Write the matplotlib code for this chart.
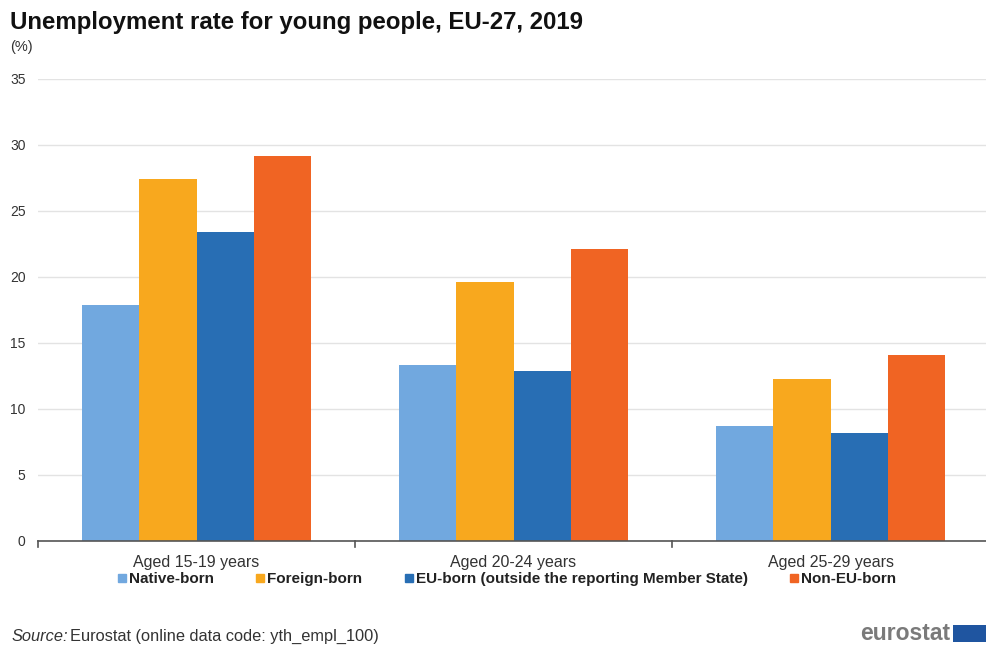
import matplotlib
matplotlib.use("Agg")
import matplotlib.pyplot as plt
from matplotlib.lines import Line2D
import numpy as np

plt.rcParams['font.family'] = ['Liberation Sans', 'DejaVu Sans']

categories = ["Aged 15-19 years", "Aged 20-24 years", "Aged 25-29 years"]
series_names = ["Native-born", "Foreign-born",
                "EU-born (outside the reporting Member State)", "Non-EU-born"]
native_born = [17.9, 13.3, 8.7]
foreign_born = [27.4, 19.6, 12.3]
eu_born = [23.4, 12.9, 8.2]
non_eu_born = [29.2, 22.1, 14.1]
y_ticks = [0, 5, 10, 15, 20, 25, 30, 35]

series = [native_born, foreign_born, eu_born, non_eu_born]
colors = ["#71A8DF", "#F8A81E", "#286EB4", "#F06423"]

W, H = 986, 650
fig = plt.figure(figsize=(W / 100, H / 100), dpi=100)
ax = fig.add_axes([38 / W, (H - 541) / H, (989 - 38) / W, (541 - 79) / H])

x = np.arange(len(categories))
bw = 0.181
for i, (vals, col) in enumerate(zip(series, colors)):
    ax.bar(x + (i - 1.5) * bw, vals, width=bw, color=col, zorder=3, linewidth=0)

ax.set_xlim(-0.5, len(categories) - 0.5)
ax.set_ylim(0, 35)
ax.set_yticks(y_ticks)
ax.set_yticklabels([str(t) for t in y_ticks])
ax.grid(axis='y', color='#e3e3e3', linewidth=1, zorder=0)
ax.set_xticks(x)
ax.set_xticklabels(categories)
ax.tick_params(axis='x', length=0, pad=10, labelsize=11.5, colors='#333333')
ax.tick_params(axis='y', length=0, pad=9, labelsize=10, colors='#333333')
for side in ['top', 'right', 'left']:
    ax.spines[side].set_visible(False)
ax.spines['bottom'].set_color('#555555')
ax.spines['bottom'].set_linewidth(1.2)
ax.spines['bottom'].set_zorder(4)

# group separator ticks on the category axis
for b in np.arange(-0.5, len(categories), 1.0):
    ax.plot([b, b], [0, -0.45], color='#555555', lw=1.2, clip_on=False, zorder=4)

fig.text(10 / W, 1 - 22 / H, "Unemployment rate for young people, EU-27, 2019",
         fontsize=17.3, fontweight='bold', va='center', ha='left', color='#111111')
fig.text(10 / W, 1 - 47 / H, "(%)", fontsize=10.5, va='center', ha='left', color='#333333')

handles = [Line2D([], [], marker='s', linestyle='none', markersize=6,
                  markerfacecolor=c, markeredgecolor=c) for c in colors]
leg = fig.legend(handles, series_names, loc='center', ncol=4,
                 bbox_to_anchor=(0.514, 1 - 579 / H), frameon=False,
                 handlelength=0.6, handletextpad=0.15, columnspacing=2.75,
                 prop={'weight': 'bold', 'size': 11})
for t in leg.get_texts():
    t.set_color('#222222')

fig.text(12 / W, 1 - 641 / H, "Source:", fontsize=11.8, style='italic',
         va='baseline', ha='left', color='#333333')
fig.text(70 / W, 1 - 641 / H, "Eurostat (online data code: yth_empl_100)",
         fontsize=11.8, va='baseline', ha='left', color='#333333')

fig.text(950 / W, 1 - 634 / H, "eurostat", fontsize=16.5, va='center', ha='right',
         color='#7a7a7a', fontweight='bold')
logo = fig.add_axes([953 / W, (H - 642) / H, 33 / W, 17 / H])
logo.set_facecolor('#1f55a0')
logo.set_xticks([])
logo.set_yticks([])
for s in logo.spines.values():
    s.set_visible(False)

fig.savefig("out.png", dpi=100, facecolor='white')
